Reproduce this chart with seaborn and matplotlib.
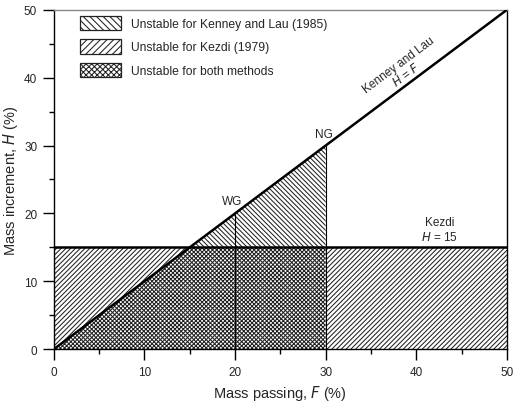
import numpy as np
import pandas as pd
import matplotlib
matplotlib.use("Agg")
import matplotlib.pyplot as plt
import seaborn as sns
from matplotlib.patches import Patch
from matplotlib.ticker import MultipleLocator

# criteria lines
f_line = [0, 50]
h_kl = [0, 50]          # Kenney and Lau, H = F
h_kezdi = 15            # Kezdi, H = 15
f_wg, f_ng = 20, 30     # well graded / narrowly graded limits

# region boundaries (F values)
f_both = [0, 15, 30]
h_both = [0, 15, 15]
f_kez_left = [0, 15]
f_kez_right = [30, 50]
f_kl = [15, 30]

legend_labels = ["Unstable for Kenney and Lau (1985)", "Unstable for Kezdi (1979)",
                 "Unstable for both methods"]

sns.set_theme(style="white")
plt.rcParams["font.family"] = ["Liberation Sans", "DejaVu Sans"]
plt.rcParams["hatch.linewidth"] = 0.75
plt.rcParams["hatch.color"] = "#222222"

fig = plt.figure(figsize=(5.13, 4.02), dpi=100)
ax = fig.add_axes([0.105, 0.129, 0.883, 0.844])

df = pd.DataFrame({"F": f_line, "H": h_kl})
sns.lineplot(data=df, x="F", y="H", color="black", lw=1.8, ax=ax, zorder=5)
sns.lineplot(x=[0, 50], y=[h_kezdi, h_kezdi], color="black", lw=1.8, ax=ax,
             zorder=5)

# hatched regions
ax.fill_between(f_both, 0, h_both, facecolor="white", edgecolor="#222222",
                hatch="xxxxxxxx", lw=0)
ax.fill_between(f_kez_left, f_kez_left, h_kezdi, facecolor="white",
                edgecolor="#222222", hatch="///////", lw=0)
ax.fill_between(f_kez_right, 0, h_kezdi, facecolor="white",
                edgecolor="#222222", hatch="///////", lw=0)
ax.fill_between(f_kl, h_kezdi, f_kl, facecolor="white",
                edgecolor="#222222", hatch="\\\\\\\\\\\\\\", lw=0)

ax.plot([f_wg, f_wg], [0, f_wg], color="black", lw=0.8, zorder=5)
ax.plot([f_ng, f_ng], [0, f_ng], color="black", lw=0.8, zorder=5)

ax.text(19.7, 21.9, "WG", ha="center", va="center", fontsize=8.5)
ax.text(29.8, 31.7, "NG", ha="center", va="center", fontsize=8.5)
ax.text(38.5, 41.2, "Kenney and Lau\n$H$ = $F$", ha="center", va="center",
        rotation=36.8, rotation_mode="anchor", fontsize=8.5, linespacing=1.0)
ax.text(42.6, 17.6, "Kezdi\n$H$ = 15", ha="center", va="center", fontsize=8.5,
        linespacing=1.15)

handles = [
    Patch(facecolor="white", edgecolor="#222222", hatch="\\\\\\\\\\", lw=0.9),
    Patch(facecolor="white", edgecolor="#222222", hatch="/////", lw=0.9),
    Patch(facecolor="white", edgecolor="#222222", hatch="xxxxxx", lw=0.9),
]
ax.legend(handles, legend_labels, loc="upper left", bbox_to_anchor=(0.045, 1.0),
          frameon=False, fontsize=8.7, handlelength=3.4, handleheight=1.45,
          labelspacing=0.75, handletextpad=0.8, borderaxespad=0.1)

ax.set_xlim(0, 50)
ax.set_ylim(0, 50)
ax.xaxis.set_major_locator(MultipleLocator(10))
ax.yaxis.set_major_locator(MultipleLocator(10))
ax.xaxis.set_minor_locator(MultipleLocator(5))
ax.yaxis.set_minor_locator(MultipleLocator(5))
ax.tick_params(which="major", direction="out", length=8, width=1,
               labelsize=8.5, pad=4, bottom=True, left=True, color="black")
ax.tick_params(which="minor", direction="out", length=3.5, width=1,
               bottom=True, left=True, color="black")
for side in ["left", "bottom", "right"]:
    ax.spines[side].set_color("black")
    ax.spines[side].set_linewidth(1.0)
ax.spines["top"].set_color("#888888")
ax.spines["top"].set_linewidth(1.0)

ax.set_xlabel("Mass passing, $F$ (%)", fontsize=10.5, labelpad=4)
ax.set_ylabel("Mass increment, $H$ (%)", fontsize=10.5, labelpad=3)

fig.savefig("out.png", dpi=100)
